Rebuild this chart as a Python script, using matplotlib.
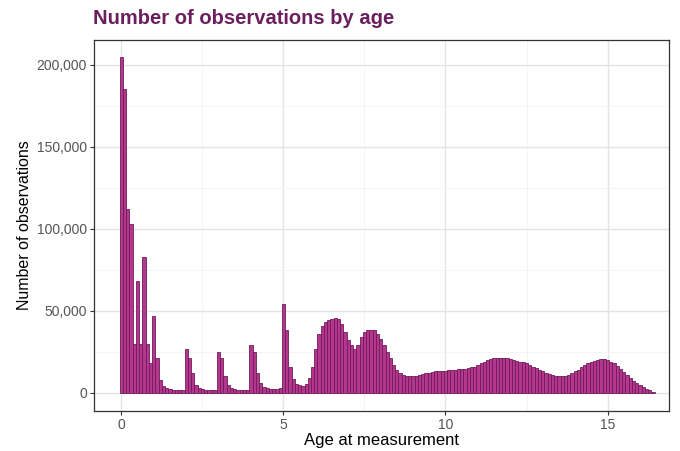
import numpy as np
import matplotlib
matplotlib.use("Agg")
import matplotlib.pyplot as plt
from matplotlib.ticker import FuncFormatter, MultipleLocator

plt.rcParams["font.family"] = ["Liberation Sans", "DejaVu Sans"]

# observations per 0.1-year age bin (thousands)
bin_width = 0.1
counts_k = [
    205, 185, 112, 103, 30, 68, 30, 83, 30, 18,            # 0.x
    47, 21, 8, 4, 3, 2.5, 2, 2, 1.8, 1.8,                  # 1.x
    27, 21, 12, 5, 3, 2.5, 2, 2, 1.8, 1.8,                 # 2.x
    25, 21, 10, 5, 3, 2.5, 2, 2, 2, 2,                     # 3.x
    29, 25, 12, 6, 3.5, 3, 2.5, 2.5, 2.5, 3,               # 4.x
    54, 38, 16, 8.5, 5.5, 4.5, 4, 5.5, 9, 16,              # 5.x
    27, 36, 41, 43, 44.5, 45, 45.5, 45, 42, 37,            # 6.x
    32, 29, 27, 29, 34, 37, 38, 38.5, 38, 36,              # 7.x
    33, 29, 25, 21, 17, 14, 12, 11, 10.5, 10,              # 8.x
    10, 10.5, 11, 11.5, 12, 12, 12.5, 13, 13, 13.5,        # 9.x
    13.5, 14, 14, 14, 14.5, 14.5, 14.5, 15, 15.5, 16,      # 10.x
    17, 18, 19, 20, 20.5, 21, 21.5, 21.5, 21.5, 21,        # 11.x
    20.5, 20, 19.5, 19, 18.5, 18, 17, 16, 15, 14,          # 12.x
    13, 12, 11.5, 11, 10.5, 10, 10, 10.5, 11, 12,          # 13.x
    13, 14, 15.5, 17, 18, 19, 19.5, 20, 20.5, 20.5,        # 14.x
    20, 19, 18, 16.5, 14.5, 12.5, 11, 9, 7.5, 6,           # 15.x
    4.5, 3.5, 2.5, 1.5, 0.8,                               # 16.x
]
counts = np.array(counts_k) * 1000
ages = np.arange(len(counts)) * bin_width

fig = plt.figure(figsize=(6.8, 4.51), dpi=100)
ax = fig.add_axes([0.138, 0.089, 0.846, 0.822])

ax.bar(ages, counts, width=bin_width, color="#B5368F", edgecolor="#6E1D56",
       linewidth=0.6, zorder=3)

ax.set_xlim(-0.85, 16.9)
ax.set_ylim(-11000, 215000)
ax.xaxis.set_major_locator(MultipleLocator(5))
ax.xaxis.set_minor_locator(MultipleLocator(2.5))
ax.yaxis.set_major_locator(MultipleLocator(50000))
ax.yaxis.set_minor_locator(MultipleLocator(25000))
ax.yaxis.set_major_formatter(FuncFormatter(lambda v, p: f"{int(v):,}"))

ax.grid(which="major", color="#E3E3E3", linewidth=1.0, zorder=0)
ax.grid(which="minor", color="#F2F2F2", linewidth=0.6, zorder=0)
ax.tick_params(which="minor", length=0)
ax.tick_params(which="major", length=3, color="#333333", labelsize=10,
               labelcolor="#555555", pad=2)
for s in ax.spines.values():
    s.set_color("#333333")
    s.set_linewidth(0.9)

ax.set_xlabel("Age at measurement", fontsize=12, labelpad=1)
ax.set_ylabel("Number of observations", fontsize=11.5, labelpad=3)
fig.text(0.137, 0.958, "Number of observations by age", fontsize=14.5,
         fontweight="bold", color="#6B1F5E", ha="left", va="center")

fig.savefig("out.png", dpi=100)
